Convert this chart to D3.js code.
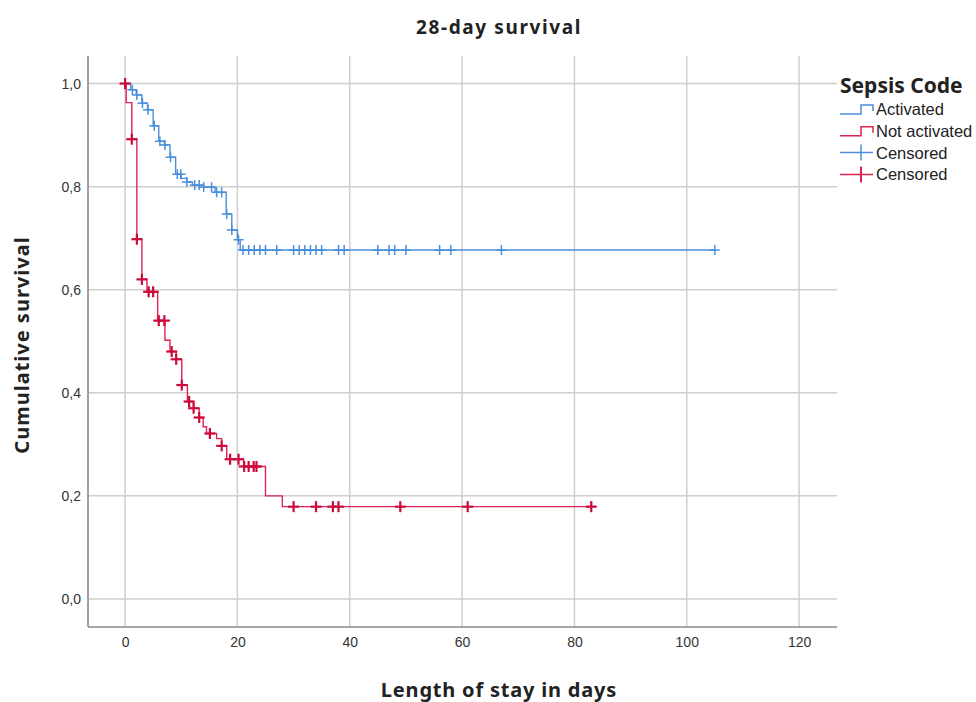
<!DOCTYPE html>
<html>
<head>
<meta charset="utf-8">
<script src="https://cdn.jsdelivr.net/npm/d3@7"></script>
<style>
  body { margin: 0; background: #fff; }
  svg { display: block; }
</style>
</head>
<body>
<div id="chart"></div>
<script>
// Kaplan-Meier step data (days, survival after the drop)
const activatedDrops = [1, 2, 3, 4, 5, 6, 7, 8, 9, 10, 11, 12, 14, 16, 18, 19, 20, 20.5];
const activatedLevels = [0.988, 0.978, 0.962, 0.949, 0.918, 0.888, 0.881, 0.857, 0.824, 0.816, 0.809, 0.803, 0.799, 0.789, 0.747, 0.716, 0.697, 0.677];
const activatedCensored = [1.3, 2.1, 3.1, 4.1, 5.2, 6.2, 7.1, 8.1, 9.3, 9.9, 11.0, 12.4, 13.2, 14.0, 15.4, 16.3, 17.2, 18.1, 19.0, 20.2,
    21, 22, 23, 24, 25, 27, 30, 31, 32, 33, 34, 35, 38, 39, 45, 47, 48, 50, 56, 58, 67, 105];

const notActivatedDrops = [0.2, 1.2, 2.1, 3.0, 3.9, 5.8, 7.1, 8.0, 9.1, 10.1, 11.1, 12.2, 13.2, 13.9, 14.5, 16.3, 17.2, 18.1, 21.1, 25, 28];
const notActivatedLevels = [0.963, 0.892, 0.698, 0.620, 0.596, 0.540, 0.502, 0.480, 0.465, 0.415, 0.383, 0.370, 0.352, 0.334, 0.321, 0.311, 0.297, 0.271, 0.257, 0.200, 0.179];
const notActivatedCensored = [0, 1.2, 2.1, 3.0, 4.2, 5.0, 6.0, 7.0, 8.3, 9.1, 10.1, 11.4, 12.2, 13.2, 15.1, 17.2, 18.7, 20.2,
    21.2, 22.0, 22.9, 23.4, 30, 34, 37, 38, 49, 61, 83];

const xTicks = [0, 20, 40, 60, 80, 100, 120];
const yTicks = [0, 0.2, 0.4, 0.6, 0.8, 1.0];

const blue = "#4a8fdc";
const red = "#dc2352";
const redDark = "#cc0a3a";

const width = 976, height = 702;
const plot = { left: 88, right: 837, top: 56, bottom: 627 };

const x = d3.scaleLinear().domain([-6.6, 126.75]).range([plot.left, plot.right]);
const y = d3.scaleLinear().domain([-0.0545, 1.0535]).range([plot.bottom, plot.top]);

const svg = d3.select("#chart").append("svg")
    .attr("width", width)
    .attr("height", height);

// Grid lines
svg.append("g").selectAll("line")
    .data(xTicks)
    .enter().append("line")
    .attr("x1", d => x(d)).attr("x2", d => x(d))
    .attr("y1", plot.top).attr("y2", plot.bottom)
    .attr("stroke", "#cfcfcf").attr("stroke-width", 1.5);

svg.append("g").selectAll("line")
    .data(yTicks)
    .enter().append("line")
    .attr("x1", plot.left).attr("x2", plot.right)
    .attr("y1", d => y(d)).attr("y2", d => y(d))
    .attr("stroke", "#cfcfcf").attr("stroke-width", 1.5);

// Axes
const fmt = d => d3.format(".1f")(d).replace(".", ",");

const xAxis = svg.append("g")
    .attr("transform", `translate(0,${plot.bottom})`)
    .call(d3.axisBottom(x).tickValues(xTicks).tickSize(0).tickPadding(10));
const yAxis = svg.append("g")
    .attr("transform", `translate(${plot.left},0)`)
    .call(d3.axisLeft(y).tickValues(yTicks).tickFormat(fmt).tickSize(0).tickPadding(7));

[xAxis, yAxis].forEach(a => {
    a.select(".domain").attr("stroke", "#8a8a8a").attr("stroke-width", 1.6);
    a.selectAll("text")
        .attr("font-family", "Liberation Sans, Arial, sans-serif")
        .attr("font-size", 14)
        .attr("fill", "#333");
});
// domains cover the whole frame
xAxis.select(".domain").attr("d", `M${plot.left},0H${plot.right}`);
yAxis.select(".domain").attr("d", `M0,${plot.top}V${plot.bottom}`);

// Survival curves
function stepPoints(drops, levels, end) {
    const pts = [[0, 1]];
    drops.forEach((t, i) => pts.push([t, levels[i]]));
    pts.push([end, levels[levels.length - 1]]);
    return pts;
}
function levelAt(drops, levels, t) {
    let s = 1;
    drops.forEach((d, i) => { if (d <= t) s = levels[i]; });
    return s;
}

const line = d3.line()
    .x(d => x(d[0]))
    .y(d => y(d[1]))
    .curve(d3.curveStepAfter);

const groups = [
    { drops: activatedDrops, levels: activatedLevels, cens: activatedCensored, color: blue, mark: blue, size: 5, sw: 1.5 },
    { drops: notActivatedDrops, levels: notActivatedLevels, cens: notActivatedCensored, color: red, mark: redDark, size: 5.5, sw: 2.2 }
];

groups.forEach(g => {
    const end = d3.max(g.cens);
    svg.append("path")
        .datum(stepPoints(g.drops, g.levels, end))
        .attr("d", line)
        .attr("fill", "none")
        .attr("stroke", g.color)
        .attr("stroke-width", 1.4);

    const marks = svg.append("g").selectAll("g")
        .data(g.cens)
        .enter().append("g")
        .attr("transform", d => `translate(${x(d)},${y(levelAt(g.drops, g.levels, d))})`);
    marks.append("line")
        .attr("x1", -g.size).attr("x2", g.size)
        .attr("stroke", g.mark).attr("stroke-width", g.sw);
    marks.append("line")
        .attr("y1", -g.size).attr("y2", g.size)
        .attr("stroke", g.mark).attr("stroke-width", g.sw);
});

// Titles
const titleFont = "Noto Sans, Open Sans, sans-serif";
svg.append("text")
    .attr("x", 499).attr("y", 34)
    .attr("text-anchor", "middle")
    .attr("font-family", titleFont).attr("font-weight", "bold")
    .attr("font-size", 19).attr("letter-spacing", 1.6).attr("fill", "#222")
    .text("28-day survival");

svg.append("text")
    .attr("x", 499).attr("y", 697)
    .attr("text-anchor", "middle")
    .attr("font-family", titleFont).attr("font-weight", "bold")
    .attr("font-size", 20).attr("letter-spacing", 0.8).attr("fill", "#222")
    .text("Length of stay in days");

svg.append("text")
    .attr("transform", "translate(29,345) rotate(-90)")
    .attr("text-anchor", "middle")
    .attr("font-family", titleFont).attr("font-weight", "bold")
    .attr("font-size", 20).attr("letter-spacing", 1).attr("fill", "#222")
    .text("Cumulative survival");

// Legend
const legend = svg.append("g").attr("transform", "translate(840,0)");
legend.append("text")
    .attr("x", 0).attr("y", 93)
    .attr("font-family", titleFont).attr("font-weight", "bold")
    .attr("font-size", 21).attr("fill", "#222")
    .text("Sepsis Code");

const legendItems = [
    { label: "Activated", color: blue, type: "step" },
    { label: "Not activated", color: red, type: "step" },
    { label: "Censored", color: blue, type: "cross", w: 1.5 },
    { label: "Censored", color: red, type: "cross", w: 2 }
];

legendItems.forEach((d, i) => {
    const cy = 109 + i * 21.8;
    const item = legend.append("g").attr("transform", `translate(0,${cy})`);
    if (d.type === "step") {
        item.append("path")
            .attr("d", "M0,5H21V-4H33V2")
            .attr("fill", "none").attr("stroke", d.color).attr("stroke-width", 1.5);
    } else {
        item.append("line").attr("x1", 0).attr("x2", 33)
            .attr("stroke", d.color).attr("stroke-width", 1.5);
        item.append("line").attr("x1", 21).attr("x2", 21).attr("y1", -8).attr("y2", 8)
            .attr("stroke", d.color).attr("stroke-width", d.w);
    }
    item.append("text")
        .attr("x", 36).attr("y", 6)
        .attr("font-family", "Liberation Sans, Arial, sans-serif")
        .attr("font-size", 16.5).attr("fill", "#222")
        .text(d.label);
});
</script>
</body>
</html>
